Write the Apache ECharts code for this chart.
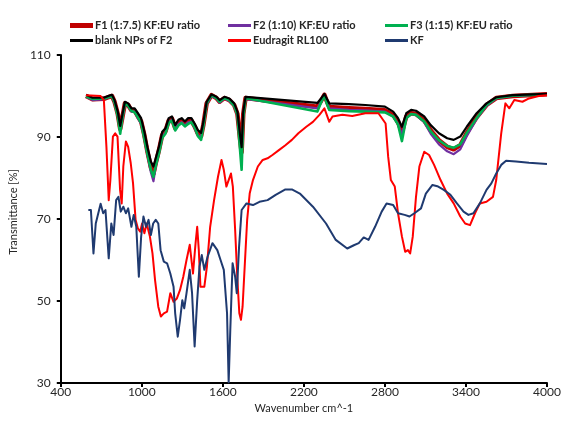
<!DOCTYPE html>
<html lang="en">
<head>
<meta charset="UTF-8">
<title>FTIR spectra</title>
<style>
    html, body {margin: 0; padding: 0; background: #fff;}
    #chart {width: 568px; height: 426px;}
</style>
</head>
<body>
<div id="chart"></div>
<script src="https://cdn.jsdelivr.net/npm/echarts@6/dist/echarts.min.js"></script>
<script>
// axis ticks
const xTicks = [400, 1000, 1600, 2200, 2800, 3400, 4000];
const yTicks = [30, 50, 70, 90, 110];

// shared wavenumbers for the four nanoparticle spectra
const topWn = [587,635,719,743,779,798,822,840,856,875,
    899,923,947,971,995,1019,1043,1067,1086,1103,
    1127,1151,1175,1199,1223,1247,1271,1295,1319,1343,
    1367,1391,1415,1439,1456,1480,1516,1552,1576,1612,
    1648,1684,1708,1727,1739,1751,1768,2300,2327,2352,
    2369,2388,2533,2655,2800,2861,2897,2926,2958,2994,
    3030,3091,3139,3200,3261,3309,3358,3406,3479,3552,
    3624,3746,4000];

const f1T = [100.0,99.2,99.3,99.6,100.0,98.6,95.6,92.0,94.8,98.2,
    97.8,96.5,96.4,95.0,93.8,90.4,86.2,82.6,81.0,83.6,
    86.8,90.5,91.4,94.0,94.5,92.2,93.6,94.0,93.2,94.0,
    94.0,92.6,90.8,90.2,93.0,98.2,100.2,99.5,98.6,99.5,
    99.0,97.8,95.6,89.5,86.3,95.6,99.5,97.4,98.8,100.3,
    98.8,97.3,97.0,96.8,96.5,95.4,93.6,91.2,95.0,95.8,
    95.6,94.0,91.6,89.2,87.6,87.0,88.0,91.0,94.8,97.8,
    99.5,100.0,100.4];

const f2T = [99.8,99.0,99.2,99.5,99.9,98.4,95.2,91.6,94.4,98.0,
    97.6,96.2,96.2,94.6,93.2,89.8,85.4,81.4,79.2,82.8,
    86.2,90.2,91.0,93.6,94.2,91.8,93.2,93.6,92.8,93.6,
    93.8,92.2,90.4,90.0,92.8,98.0,100.0,99.4,98.4,99.4,
    98.8,97.6,95.2,88.8,86.0,95.2,99.3,97.0,98.6,100.2,
    98.6,97.0,96.6,96.5,96.2,95.0,93.2,90.6,94.6,95.6,
    95.4,93.6,90.8,88.2,86.5,85.8,87.0,90.2,94.4,97.6,
    99.4,100.0,100.4];

const f3T = [99.9,99.3,99.4,99.6,100.0,98.4,95.0,90.8,94.6,98.2,
    97.6,96.4,96.0,94.8,93.4,89.5,85.6,82.0,80.3,83.0,
    86.0,89.8,90.8,93.4,94.0,91.6,92.8,93.4,92.6,93.2,
    93.6,92.4,90.2,89.3,92.6,98.2,100.2,99.5,98.6,99.5,
    99.0,97.6,95.4,87.0,82.0,94.6,99.5,96.2,98.4,100.2,
    98.2,96.6,96.3,96.2,96.0,95.0,93.0,89.0,94.6,95.6,
    95.4,93.8,91.4,89.2,87.8,87.4,88.2,91.0,94.6,97.8,
    99.5,100.1,100.4];

const blankT = [100.3,99.6,99.6,99.9,100.3,99.0,96.2,92.7,95.4,98.6,
    98.2,97.0,97.0,95.8,94.6,91.3,87.3,84.0,82.8,84.8,
    87.7,91.3,92.1,94.6,95.0,92.9,94.2,94.6,93.8,94.6,
    94.6,93.3,91.7,91.0,93.7,98.6,100.4,99.8,99.0,99.8,
    99.4,98.2,96.2,90.5,87.5,96.2,99.8,98.3,99.4,100.5,
    99.4,98.2,98.0,97.8,97.4,96.2,94.6,92.5,95.8,96.6,
    96.4,95.0,92.9,90.9,89.7,89.3,90.1,92.5,95.8,98.2,
    99.7,100.2,100.5];

// Eudragit RL100
const euWn = [587,695,719,738,755,767,786,803,820,839,
    851,863,882,899,918,935,954,971,988,1002,
    1019,1036,1060,1079,1098,1122,1141,1163,1187,1211,
    1235,1259,1283,1307,1331,1355,1379,1398,1410,1422,
    1434,1463,1482,1506,1535,1564,1590,1607,1626,1643,
    1660,1674,1691,1708,1722,1734,1746,1763,1780,1799,
    1823,1859,1895,1931,1967,2015,2063,2111,2159,2218,
    2267,2315,2352,2388,2412,2485,2558,2655,2752,2805,
    2824,2844,2873,2897,2926,2950,2970,2987,3006,3030,
    3055,3091,3127,3164,3212,3261,3309,3358,3394,3430,
    3467,3503,3552,3600,3624,3661,3692,3721,3758,3818,
    3867,3939,4000];
const euT = [100.2,100.0,99.0,87.6,74.6,79.5,90.1,90.9,90.1,77.1,
    73.8,82.8,88.9,87.6,83.6,78.7,69.8,67.7,66.9,68.9,
    66.5,68.9,65.7,61.6,55.1,48.6,46.2,47.0,47.4,51.9,
    49.8,50.6,52.7,55.9,60.0,63.7,56.7,64.1,68.1,62.4,
    53.5,53.5,58.4,68.1,74.6,80.3,84.4,82.0,77.9,79.5,
    81.1,77.9,67.3,55.1,47.0,45.4,48.6,59.2,69.8,76.3,
    79.5,82.8,84.4,84.8,85.6,86.8,88.0,89.3,90.9,92.5,
    93.7,95.4,97.0,93.7,95.0,95.4,95.1,95.8,95.8,93.3,
    85.2,79.5,77.9,71.4,65.7,62.0,62.4,61.6,65.7,75.4,
    82.8,86.4,85.6,83.2,79.5,76.2,73.8,70.6,68.9,68.5,
    71.4,73.8,74.2,75.4,79.5,90.9,98.2,97.0,99.0,98.6,
    99.4,100.0,100.2];

// KF
const kfWn = [604,623,642,659,671,695,714,731,755,774,
    791,810,827,844,863,882,899,923,940,959,
    978,995,1012,1031,1050,1067,1084,1103,1122,1139,
    1163,1187,1211,1235,1247,1266,1283,1300,1314,1331,
    1355,1372,1391,1410,1427,1444,1463,1487,1523,1559,
    1583,1607,1631,1643,1655,1672,1691,1703,1720,1739,
    1775,1823,1871,1931,1991,2063,2111,2170,2267,2364,
    2436,2521,2570,2606,2643,2679,2727,2776,2812,2861,
    2897,2946,2982,3018,3067,3103,3152,3188,3236,3285,
    3333,3382,3418,3455,3503,3552,3588,3624,3661,3697,
    3770,3867,4000];
const kfT = [72.2,72.2,61.6,68.9,68.9,73.7,71.4,72.2,60.4,68.9,
    66.1,74.6,75.4,71.8,73.0,71.4,72.6,68.1,71.0,68.1,
    55.9,65.7,70.6,68.1,69.8,66.1,68.9,69.8,68.9,62.4,
    59.6,59.2,56.7,53.5,47.0,41.3,45.4,50.2,48.2,51.9,
    57.6,51.9,38.9,50.2,58.4,61.2,57.6,60.8,64.1,62.4,
    60.0,57.6,47.0,30.2,42.9,59.2,55.9,51.9,63.2,72.2,
    73.8,73.4,74.2,74.6,75.9,77.2,77.2,76.2,73.0,68.9,
    64.9,62.8,63.6,64.1,65.5,64.9,68.1,71.8,73.8,73.4,
    71.4,71.0,70.6,71.4,72.6,76.2,78.3,78.0,77.1,75.9,
    73.8,71.8,71.0,71.4,73.8,77.1,78.7,81.1,83.2,84.2,
    84.0,83.7,83.4];

const names = ['F1 (1:7.5) KF:EU ratio', 'F2 (1:10) KF:EU ratio', 'F3 (1:15) KF:EU ratio',
    'blank NPs of F2', 'Eudragit RL100', 'KF'];
const colors = ['#C00000', '#7030A0', '#00B050', '#000000', '#FF0000', '#1F3A70'];
const widths = [4.5, 2.2, 2.6, 2.2, 2, 2];

function pairs(xs, ys) {
    return xs.map((x, i) => [x, ys[i]]);
}

const seriesData = [
    pairs(topWn, f1T), pairs(topWn, f2T), pairs(topWn, f3T),
    pairs(topWn, blankT), pairs(euWn, euT), pairs(kfWn, kfT)
];

const font = 'Lato, "Open Sans", sans-serif';

// one legend per entry so the 3x2 layout lines up like the original
const legendPos = [[70, 20], [228, 20], [385, 20], [70, 35], [228, 35], [385, 35]];
const legends = names.map((n, i) => ({
    data: [n],
    left: legendPos[i][0],
    top: legendPos[i][1],
    icon: 'rect',
    itemWidth: 23,
    itemHeight: i === 0 ? 5 : 3,
    itemGap: 0,
    padding: 0,
    textStyle: {fontFamily: font, fontSize: 11, fontWeight: 'bold', color: '#262626', padding: [0, 0, 0, -3]}
}));

const chart = echarts.init(document.getElementById('chart'));
chart.setOption({
    animation: false,
    legend: legends,
    grid: {left: 55, right: 21, top: 55, bottom: 43},
    xAxis: {
        type: 'value',
        min: xTicks[0], max: xTicks[xTicks.length - 1], interval: 600,
        name: 'Wavenumber cm^-1',
        nameLocation: 'middle',
        nameGap: 15,
        nameTextStyle: {fontFamily: font, fontSize: 11, color: '#262626'},
        axisLine: {lineStyle: {color: '#000', width: 2}},
        axisTick: {show: true, length: 4, lineStyle: {color: '#000', width: 2}},
        axisLabel: {fontFamily: font, fontSize: 12, color: '#262626', margin: 3,
            formatter: v => String(v)},
        splitLine: {show: false}
    },
    yAxis: {
        type: 'value',
        min: yTicks[0], max: yTicks[yTicks.length - 1], interval: 20,
        name: 'Transmittance [%]',
        nameLocation: 'middle',
        nameGap: 38,
        nameTextStyle: {fontFamily: font, fontSize: 11, color: '#262626', padding: [0, 0, 0, 14]},
        axisLine: {show: true, lineStyle: {color: '#000', width: 2}},
        axisTick: {show: true, length: 4, lineStyle: {color: '#000', width: 2}},
        axisLabel: {fontFamily: font, fontSize: 12, color: '#262626', margin: 10,
            formatter: v => String(v)},
        splitLine: {show: false}
    },
    series: names.map((n, i) => ({
        name: n,
        type: 'line',
        data: seriesData[i],
        symbol: 'none',
        showSymbol: false,
        color: colors[i],
        lineStyle: {color: colors[i], width: widths[i], join: 'round'},
        z: 2 + i
    }))
});
</script>
</body>
</html>
